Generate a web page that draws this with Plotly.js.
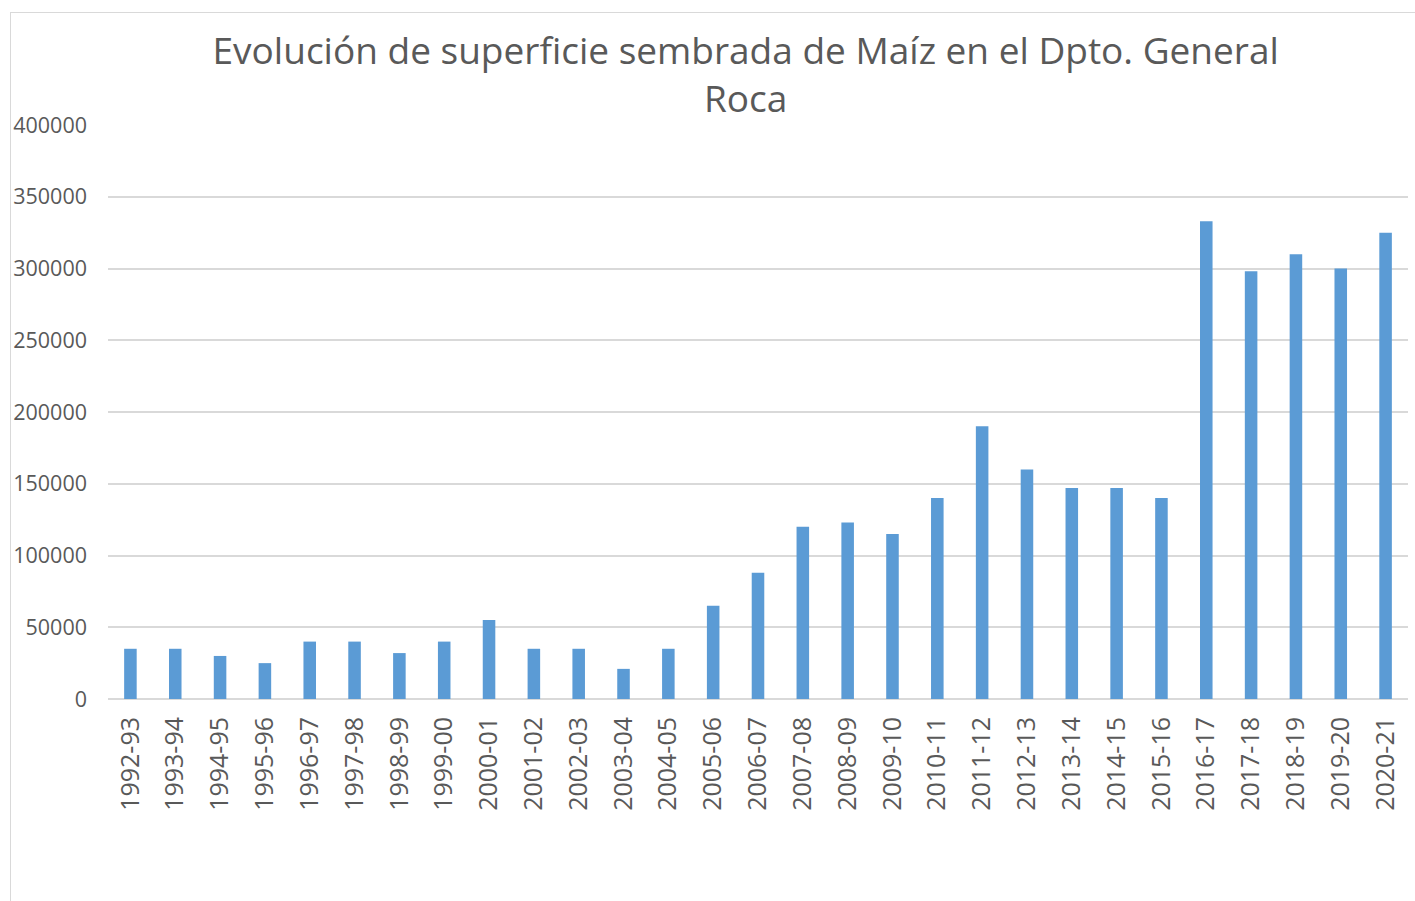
<!DOCTYPE html>
<html>
<head>
<meta charset="utf-8">
<script src="https://cdn.plot.ly/plotly-3.0.1.min.js"></script>
<style>
  html, body { margin: 0; padding: 0; background: #fff; overflow: hidden; }
  #frame { position: absolute; left: 10px; top: 12px; width: 1500px; height: 1000px; border: 1px solid #d9d9d9; box-sizing: border-box; }
  #chart { position: absolute; left: 0; top: 0; width: 1415px; height: 901px; }
</style>
</head>
<body>
<div id="frame"></div>
<div id="chart"></div>
<script>
const campaigns = ["1992-93","1993-94","1994-95","1995-96","1996-97","1997-98","1998-99","1999-00","2000-01","2001-02","2002-03","2003-04","2004-05","2005-06","2006-07","2007-08","2008-09","2009-10","2010-11","2011-12","2012-13","2013-14","2014-15","2015-16","2016-17","2017-18","2018-19","2019-20","2020-21"];
const superficie = [35000,35000,30000,25000,40000,40000,32000,40000,55000,35000,35000,21000,35000,65000,88000,120000,123000,115000,140000,190000,160000,147000,147000,140000,333000,298000,310000,300000,325000];
const yTicks = [0,50000,100000,150000,200000,250000,300000,350000,400000];
const titleText = "Evolución de superficie sembrada de Maíz en el Dpto. General<br>Roca";

const trace = {
  type: "bar",
  x: campaigns,
  y: superficie,
  marker: { color: "#5B9BD5" },
  hoverinfo: "x+y"
};

const layout = {
  width: 1415,
  height: 901,
  paper_bgcolor: "rgba(0,0,0,0)",
  plot_bgcolor: "rgba(0,0,0,0)",
  margin: { l: 108, r: 7, t: 125, b: 202 },
  bargap: 0.72,
  showlegend: false,
  font: { family: "Open Sans, sans-serif", color: "#595959" },
  title: {
    text: titleText,
    font: { family: "Open Sans, sans-serif", size: 37, color: "#595959" },
    x: 0.527, xref: "container", xanchor: "center",
    y: 0.929, yref: "container", yanchor: "top"
  },
  xaxis: {
    type: "category",
    tickangle: -90,
    tickfont: { size: 25, color: "#595959" },
    showgrid: false,
    showline: false,
    ticks: "",
    ticklabelstandoff: 12
  },
  yaxis: {
    range: [0, 400000],
    tickvals: yTicks,
    ticktext: yTicks.map(String),
    tickfont: { size: 21.5, color: "#595959" },
    gridcolor: "#D9D9D9",
    gridwidth: 1.5,
    zeroline: true,
    zerolinecolor: "#D9D9D9",
    zerolinewidth: 2,
    showline: false,
    ticks: "",
    ticklabelstandoff: 20
  }
};

Plotly.newPlot("chart", [trace], layout, { displayModeBar: false });
</script>
</body>
</html>
